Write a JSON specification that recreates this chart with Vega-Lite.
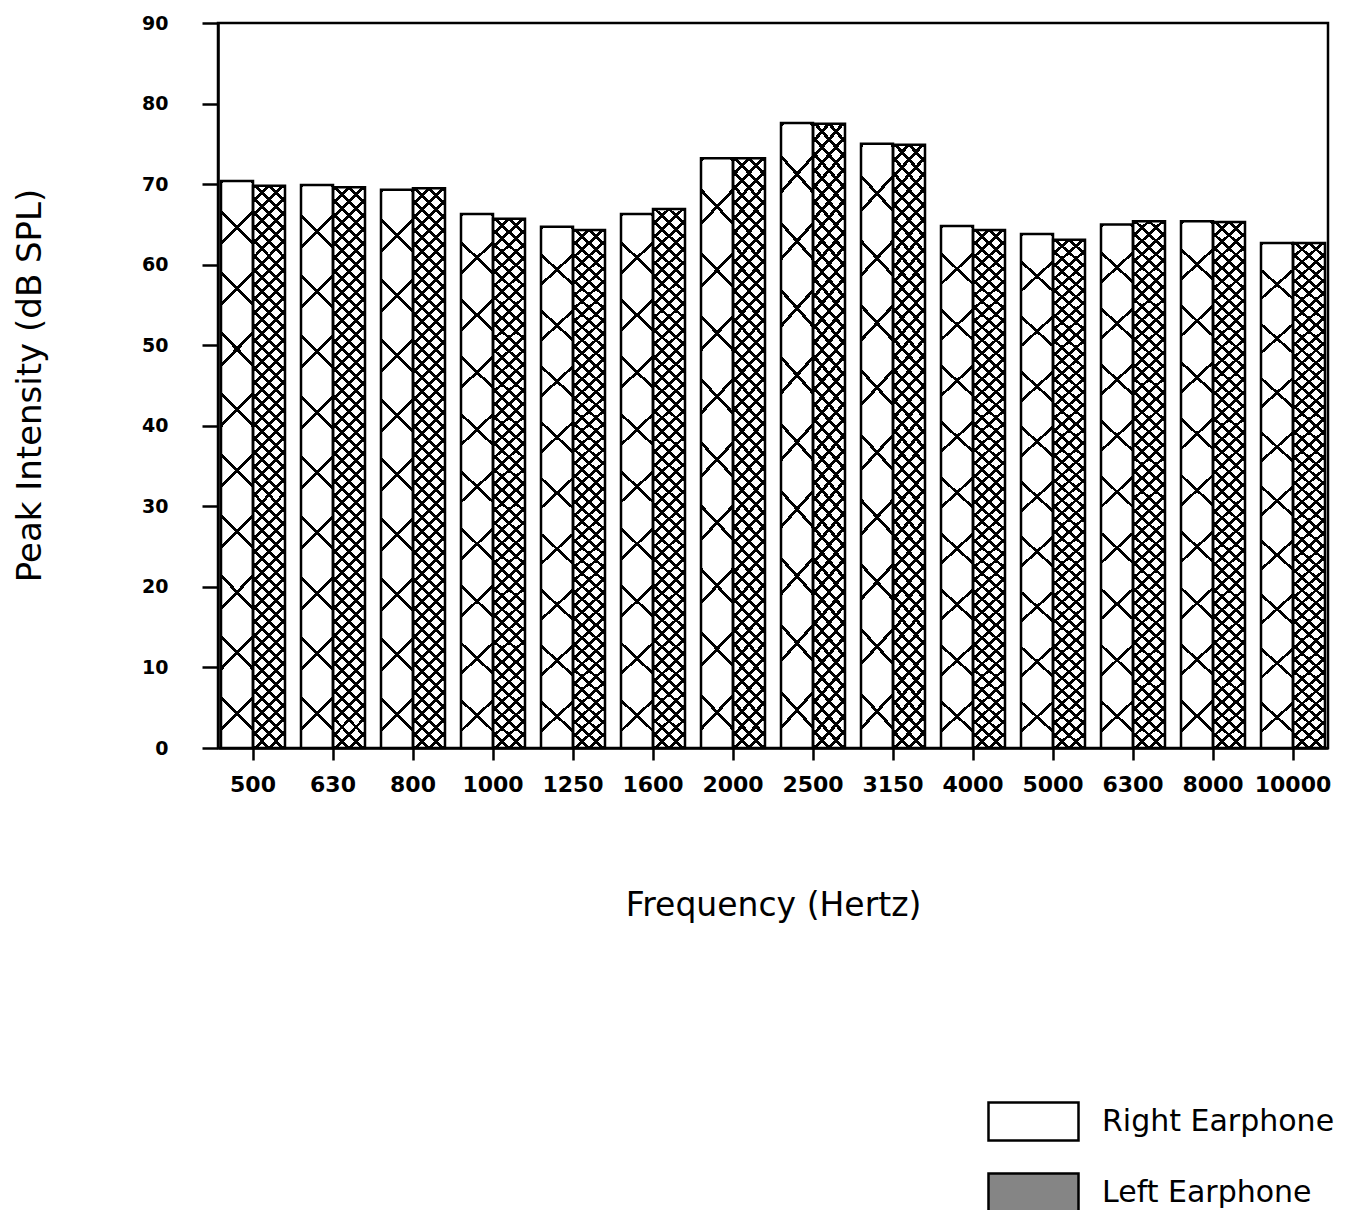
{
"$schema":"https://vega.github.io/schema/vega-lite/v6.json",
"autosize":{"type":"none"},
"padding":{"left":218,"top":23,"right":37,"bottom":462},
"width":1110,"height":725,
"background":"white",
"config":{"view":{"stroke":"black","strokeWidth":2.5},
"axis":{"domainColor":"black","domainWidth":2.5,"tickColor":"black","tickWidth":2.5,"labelColor":"black","titleColor":"black","grid":false,"labelFont":"DejaVu Sans","titleFont":"DejaVu Sans","titleFontWeight":"normal"}},
"data":{"values":[
{"freq":"500","ear":"Right Earphone","db":70.4},{"freq":"500","ear":"Left Earphone","db":69.8},
{"freq":"630","ear":"Right Earphone","db":69.9},{"freq":"630","ear":"Left Earphone","db":69.6},
{"freq":"800","ear":"Right Earphone","db":69.3},{"freq":"800","ear":"Left Earphone","db":69.5},
{"freq":"1000","ear":"Right Earphone","db":66.3},{"freq":"1000","ear":"Left Earphone","db":65.7},
{"freq":"1250","ear":"Right Earphone","db":64.7},{"freq":"1250","ear":"Left Earphone","db":64.3},
{"freq":"1600","ear":"Right Earphone","db":66.3},{"freq":"1600","ear":"Left Earphone","db":66.9},
{"freq":"2000","ear":"Right Earphone","db":73.2},{"freq":"2000","ear":"Left Earphone","db":73.2},
{"freq":"2500","ear":"Right Earphone","db":77.6},{"freq":"2500","ear":"Left Earphone","db":77.5},
{"freq":"3150","ear":"Right Earphone","db":75.0},{"freq":"3150","ear":"Left Earphone","db":74.9},
{"freq":"4000","ear":"Right Earphone","db":64.8},{"freq":"4000","ear":"Left Earphone","db":64.3},
{"freq":"5000","ear":"Right Earphone","db":63.8},{"freq":"5000","ear":"Left Earphone","db":63.1},
{"freq":"6300","ear":"Right Earphone","db":65.0},{"freq":"6300","ear":"Left Earphone","db":65.4},
{"freq":"8000","ear":"Right Earphone","db":65.4},{"freq":"8000","ear":"Left Earphone","db":65.3},
{"freq":"10000","ear":"Right Earphone","db":62.7},{"freq":"10000","ear":"Left Earphone","db":62.7}
]},
"encoding":{
"x":{"field":"freq","type":"nominal","sort":["500","630","800","1000","1250","1600","2000","2500","3150","4000","5000","6300","8000","10000"],"scale":{"paddingInner":0.2,"paddingOuter":0.0375},"title":"Frequency (Hertz)",
"axis":{"labelAngle":0,"tickSize":12,"labelPadding":14,"labelFontSize":22,"labelFontWeight":"bold","titleFontSize":33,"titleX":555,"titleY":157,"titleAlign":"center","titleBaseline":"middle"}},
"xOffset":{"field":"ear","type":"nominal","sort":["Right Earphone","Left Earphone"]},
"y":{"field":"db","type":"quantitative","scale":{"domain":[0,90],"nice":false},"title":"Peak Intensity (dB SPL)",
"axis":{"values":[0,10,20,30,40,50,60,70,80,90],"tickSize":16,"labelPadding":34,"labelFontSize":19,"labelFontWeight":"bold","labelFlush":false,"labelOverlap":false,"titleFontSize":34,"titleX":-188,"titleY":362,"titleAngle":270,"titleAlign":"center","titleBaseline":"middle"}}
},
"layer":[
{"mark":{"type":"bar","opacity":0},
 "encoding":{"fill":{"field":"ear","type":"nominal","scale":{"domain":["Right Earphone","Left Earphone"],"range":["white","#858585"]},
 "legend":{"title":null,"orient":"none","legendX":769,"legendY":1052,"padding":0,"symbolType":"M-1,-0.42H1V0.42H-1Z","symbolSize":8100,"symbolStrokeColor":"black","symbolStrokeWidth":2.5,"symbolOpacity":1,"labelFontSize":30,"labelFont":"DejaVu Sans","labelColor":"black","labelOffset":22,"labelLimit":0,"rowPadding":-28}}}},
{"mark":{"type":"bar","fill":"white","strokeWidth":0}},
{"transform":[{"filter":"datum.ear === 'Right Earphone'"}],
 "mark":{"type":"bar","strokeWidth":0,"fill":{"gradient":"linear","x1":0,"y1":0,"x2":0.0712,"y2":1.246,"stops":[
{"offset":0,"color":"transparent"},{"offset":0,"color":"black"},{"offset":0.0057,"color":"black"},{"offset":0.0057,"color":"transparent"},
{"offset":0.0857,"color":"transparent"},{"offset":0.0857,"color":"black"},{"offset":0.0914,"color":"black"},{"offset":0.0914,"color":"transparent"},
{"offset":0.1714,"color":"transparent"},{"offset":0.1714,"color":"black"},{"offset":0.1771,"color":"black"},{"offset":0.1771,"color":"transparent"},
{"offset":0.2571,"color":"transparent"},{"offset":0.2571,"color":"black"},{"offset":0.2629,"color":"black"},{"offset":0.2629,"color":"transparent"},
{"offset":0.3429,"color":"transparent"},{"offset":0.3429,"color":"black"},{"offset":0.3486,"color":"black"},{"offset":0.3486,"color":"transparent"},
{"offset":0.4286,"color":"transparent"},{"offset":0.4286,"color":"black"},{"offset":0.4343,"color":"black"},{"offset":0.4343,"color":"transparent"},
{"offset":0.5143,"color":"transparent"},{"offset":0.5143,"color":"black"},{"offset":0.52,"color":"black"},{"offset":0.52,"color":"transparent"},
{"offset":0.6,"color":"transparent"},{"offset":0.6,"color":"black"},{"offset":0.6057,"color":"black"},{"offset":0.6057,"color":"transparent"},
{"offset":0.6857,"color":"transparent"},{"offset":0.6857,"color":"black"},{"offset":0.6914,"color":"black"},{"offset":0.6914,"color":"transparent"},
{"offset":0.7714,"color":"transparent"},{"offset":0.7714,"color":"black"},{"offset":0.7771,"color":"black"},{"offset":0.7771,"color":"transparent"},
{"offset":0.8571,"color":"transparent"},{"offset":0.8571,"color":"black"},{"offset":0.8629,"color":"black"},{"offset":0.8629,"color":"transparent"},
{"offset":0.9429,"color":"transparent"},{"offset":0.9429,"color":"black"},{"offset":0.9486,"color":"black"},{"offset":0.9486,"color":"transparent"},{"offset":1,"color":"transparent"}]}}},
{"transform":[{"filter":"datum.ear === 'Right Earphone'"}],
 "mark":{"type":"bar","strokeWidth":0,"fill":{"gradient":"linear","x1":1,"y1":0,"x2":0.9288,"y2":1.246,"stops":[
{"offset":0,"color":"transparent"},{"offset":0,"color":"black"},{"offset":0.0057,"color":"black"},{"offset":0.0057,"color":"transparent"},
{"offset":0.0857,"color":"transparent"},{"offset":0.0857,"color":"black"},{"offset":0.0914,"color":"black"},{"offset":0.0914,"color":"transparent"},
{"offset":0.1714,"color":"transparent"},{"offset":0.1714,"color":"black"},{"offset":0.1771,"color":"black"},{"offset":0.1771,"color":"transparent"},
{"offset":0.2571,"color":"transparent"},{"offset":0.2571,"color":"black"},{"offset":0.2629,"color":"black"},{"offset":0.2629,"color":"transparent"},
{"offset":0.3429,"color":"transparent"},{"offset":0.3429,"color":"black"},{"offset":0.3486,"color":"black"},{"offset":0.3486,"color":"transparent"},
{"offset":0.4286,"color":"transparent"},{"offset":0.4286,"color":"black"},{"offset":0.4343,"color":"black"},{"offset":0.4343,"color":"transparent"},
{"offset":0.5143,"color":"transparent"},{"offset":0.5143,"color":"black"},{"offset":0.52,"color":"black"},{"offset":0.52,"color":"transparent"},
{"offset":0.6,"color":"transparent"},{"offset":0.6,"color":"black"},{"offset":0.6057,"color":"black"},{"offset":0.6057,"color":"transparent"},
{"offset":0.6857,"color":"transparent"},{"offset":0.6857,"color":"black"},{"offset":0.6914,"color":"black"},{"offset":0.6914,"color":"transparent"},
{"offset":0.7714,"color":"transparent"},{"offset":0.7714,"color":"black"},{"offset":0.7771,"color":"black"},{"offset":0.7771,"color":"transparent"},
{"offset":0.8571,"color":"transparent"},{"offset":0.8571,"color":"black"},{"offset":0.8629,"color":"black"},{"offset":0.8629,"color":"transparent"},
{"offset":0.9429,"color":"transparent"},{"offset":0.9429,"color":"black"},{"offset":0.9486,"color":"black"},{"offset":0.9486,"color":"transparent"},{"offset":1,"color":"transparent"}]}}},
{"transform":[{"filter":"datum.ear === 'Left Earphone'"}],
 "mark":{"type":"bar","strokeWidth":0,"fill":{"gradient":"linear","x1":0,"y1":0,"x2":0.0712,"y2":1.246,"stops":[
{"offset":0,"color":"black"},{"offset":0.0057,"color":"black"},{"offset":0.0057,"color":"transparent"},
{"offset":0.02,"color":"transparent"},{"offset":0.02,"color":"black"},{"offset":0.0257,"color":"black"},{"offset":0.0257,"color":"transparent"},
{"offset":0.04,"color":"transparent"},{"offset":0.04,"color":"black"},{"offset":0.0457,"color":"black"},{"offset":0.0457,"color":"transparent"},
{"offset":0.06,"color":"transparent"},{"offset":0.06,"color":"black"},{"offset":0.0657,"color":"black"},{"offset":0.0657,"color":"transparent"},
{"offset":0.08,"color":"transparent"},{"offset":0.08,"color":"black"},{"offset":0.0857,"color":"black"},{"offset":0.0857,"color":"transparent"},
{"offset":0.1,"color":"transparent"},{"offset":0.1,"color":"black"},{"offset":0.1057,"color":"black"},{"offset":0.1057,"color":"transparent"},
{"offset":0.12,"color":"transparent"},{"offset":0.12,"color":"black"},{"offset":0.1257,"color":"black"},{"offset":0.1257,"color":"transparent"},
{"offset":0.14,"color":"transparent"},{"offset":0.14,"color":"black"},{"offset":0.1457,"color":"black"},{"offset":0.1457,"color":"transparent"},
{"offset":0.16,"color":"transparent"},{"offset":0.16,"color":"black"},{"offset":0.1657,"color":"black"},{"offset":0.1657,"color":"transparent"},
{"offset":0.18,"color":"transparent"},{"offset":0.18,"color":"black"},{"offset":0.1857,"color":"black"},{"offset":0.1857,"color":"transparent"},
{"offset":0.2,"color":"transparent"},{"offset":0.2,"color":"black"},{"offset":0.2057,"color":"black"},{"offset":0.2057,"color":"transparent"},
{"offset":0.22,"color":"transparent"},{"offset":0.22,"color":"black"},{"offset":0.2257,"color":"black"},{"offset":0.2257,"color":"transparent"},
{"offset":0.24,"color":"transparent"},{"offset":0.24,"color":"black"},{"offset":0.2457,"color":"black"},{"offset":0.2457,"color":"transparent"},
{"offset":0.26,"color":"transparent"},{"offset":0.26,"color":"black"},{"offset":0.2657,"color":"black"},{"offset":0.2657,"color":"transparent"},
{"offset":0.28,"color":"transparent"},{"offset":0.28,"color":"black"},{"offset":0.2857,"color":"black"},{"offset":0.2857,"color":"transparent"},
{"offset":0.3,"color":"transparent"},{"offset":0.3,"color":"black"},{"offset":0.3057,"color":"black"},{"offset":0.3057,"color":"transparent"},
{"offset":0.32,"color":"transparent"},{"offset":0.32,"color":"black"},{"offset":0.3257,"color":"black"},{"offset":0.3257,"color":"transparent"},
{"offset":0.34,"color":"transparent"},{"offset":0.34,"color":"black"},{"offset":0.3457,"color":"black"},{"offset":0.3457,"color":"transparent"},
{"offset":0.36,"color":"transparent"},{"offset":0.36,"color":"black"},{"offset":0.3657,"color":"black"},{"offset":0.3657,"color":"transparent"},
{"offset":0.38,"color":"transparent"},{"offset":0.38,"color":"black"},{"offset":0.3857,"color":"black"},{"offset":0.3857,"color":"transparent"},
{"offset":0.4,"color":"transparent"},{"offset":0.4,"color":"black"},{"offset":0.4057,"color":"black"},{"offset":0.4057,"color":"transparent"},
{"offset":0.42,"color":"transparent"},{"offset":0.42,"color":"black"},{"offset":0.4257,"color":"black"},{"offset":0.4257,"color":"transparent"},
{"offset":0.44,"color":"transparent"},{"offset":0.44,"color":"black"},{"offset":0.4457,"color":"black"},{"offset":0.4457,"color":"transparent"},
{"offset":0.46,"color":"transparent"},{"offset":0.46,"color":"black"},{"offset":0.4657,"color":"black"},{"offset":0.4657,"color":"transparent"},
{"offset":0.48,"color":"transparent"},{"offset":0.48,"color":"black"},{"offset":0.4857,"color":"black"},{"offset":0.4857,"color":"transparent"},
{"offset":0.5,"color":"transparent"},{"offset":0.5,"color":"black"},{"offset":0.5057,"color":"black"},{"offset":0.5057,"color":"transparent"},
{"offset":0.52,"color":"transparent"},{"offset":0.52,"color":"black"},{"offset":0.5257,"color":"black"},{"offset":0.5257,"color":"transparent"},
{"offset":0.54,"color":"transparent"},{"offset":0.54,"color":"black"},{"offset":0.5457,"color":"black"},{"offset":0.5457,"color":"transparent"},
{"offset":0.56,"color":"transparent"},{"offset":0.56,"color":"black"},{"offset":0.5657,"color":"black"},{"offset":0.5657,"color":"transparent"},
{"offset":0.58,"color":"transparent"},{"offset":0.58,"color":"black"},{"offset":0.5857,"color":"black"},{"offset":0.5857,"color":"transparent"},
{"offset":0.6,"color":"transparent"},{"offset":0.6,"color":"black"},{"offset":0.6057,"color":"black"},{"offset":0.6057,"color":"transparent"},
{"offset":0.62,"color":"transparent"},{"offset":0.62,"color":"black"},{"offset":0.6257,"color":"black"},{"offset":0.6257,"color":"transparent"},
{"offset":0.64,"color":"transparent"},{"offset":0.64,"color":"black"},{"offset":0.6457,"color":"black"},{"offset":0.6457,"color":"transparent"},
{"offset":0.66,"color":"transparent"},{"offset":0.66,"color":"black"},{"offset":0.6657,"color":"black"},{"offset":0.6657,"color":"transparent"},
{"offset":0.68,"color":"transparent"},{"offset":0.68,"color":"black"},{"offset":0.6857,"color":"black"},{"offset":0.6857,"color":"transparent"},
{"offset":0.7,"color":"transparent"},{"offset":0.7,"color":"black"},{"offset":0.7057,"color":"black"},{"offset":0.7057,"color":"transparent"},
{"offset":0.72,"color":"transparent"},{"offset":0.72,"color":"black"},{"offset":0.7257,"color":"black"},{"offset":0.7257,"color":"transparent"},
{"offset":0.74,"color":"transparent"},{"offset":0.74,"color":"black"},{"offset":0.7457,"color":"black"},{"offset":0.7457,"color":"transparent"},
{"offset":0.76,"color":"transparent"},{"offset":0.76,"color":"black"},{"offset":0.7657,"color":"black"},{"offset":0.7657,"color":"transparent"},
{"offset":0.78,"color":"transparent"},{"offset":0.78,"color":"black"},{"offset":0.7857,"color":"black"},{"offset":0.7857,"color":"transparent"},
{"offset":0.8,"color":"transparent"},{"offset":0.8,"color":"black"},{"offset":0.8057,"color":"black"},{"offset":0.8057,"color":"transparent"},
{"offset":0.82,"color":"transparent"},{"offset":0.82,"color":"black"},{"offset":0.8257,"color":"black"},{"offset":0.8257,"color":"transparent"},
{"offset":0.84,"color":"transparent"},{"offset":0.84,"color":"black"},{"offset":0.8457,"color":"black"},{"offset":0.8457,"color":"transparent"},
{"offset":0.86,"color":"transparent"},{"offset":0.86,"color":"black"},{"offset":0.8657,"color":"black"},{"offset":0.8657,"color":"transparent"},
{"offset":0.88,"color":"transparent"},{"offset":0.88,"color":"black"},{"offset":0.8857,"color":"black"},{"offset":0.8857,"color":"transparent"},
{"offset":0.9,"color":"transparent"},{"offset":0.9,"color":"black"},{"offset":0.9057,"color":"black"},{"offset":0.9057,"color":"transparent"},
{"offset":0.92,"color":"transparent"},{"offset":0.92,"color":"black"},{"offset":0.9257,"color":"black"},{"offset":0.9257,"color":"transparent"},
{"offset":0.94,"color":"transparent"},{"offset":0.94,"color":"black"},{"offset":0.9457,"color":"black"},{"offset":0.9457,"color":"transparent"},
{"offset":0.96,"color":"transparent"},{"offset":0.96,"color":"black"},{"offset":0.9657,"color":"black"},{"offset":0.9657,"color":"transparent"},
{"offset":0.98,"color":"transparent"},{"offset":0.98,"color":"black"},{"offset":0.9857,"color":"black"},{"offset":0.9857,"color":"transparent"},{"offset":1,"color":"transparent"}]}}},
{"transform":[{"filter":"datum.ear === 'Left Earphone'"}],
 "mark":{"type":"bar","strokeWidth":0,"fill":{"gradient":"linear","x1":1,"y1":0,"x2":0.9288,"y2":1.246,"stops":[
{"offset":0,"color":"black"},{"offset":0.0057,"color":"black"},{"offset":0.0057,"color":"transparent"},
{"offset":0.02,"color":"transparent"},{"offset":0.02,"color":"black"},{"offset":0.0257,"color":"black"},{"offset":0.0257,"color":"transparent"},
{"offset":0.04,"color":"transparent"},{"offset":0.04,"color":"black"},{"offset":0.0457,"color":"black"},{"offset":0.0457,"color":"transparent"},
{"offset":0.06,"color":"transparent"},{"offset":0.06,"color":"black"},{"offset":0.0657,"color":"black"},{"offset":0.0657,"color":"transparent"},
{"offset":0.08,"color":"transparent"},{"offset":0.08,"color":"black"},{"offset":0.0857,"color":"black"},{"offset":0.0857,"color":"transparent"},
{"offset":0.1,"color":"transparent"},{"offset":0.1,"color":"black"},{"offset":0.1057,"color":"black"},{"offset":0.1057,"color":"transparent"},
{"offset":0.12,"color":"transparent"},{"offset":0.12,"color":"black"},{"offset":0.1257,"color":"black"},{"offset":0.1257,"color":"transparent"},
{"offset":0.14,"color":"transparent"},{"offset":0.14,"color":"black"},{"offset":0.1457,"color":"black"},{"offset":0.1457,"color":"transparent"},
{"offset":0.16,"color":"transparent"},{"offset":0.16,"color":"black"},{"offset":0.1657,"color":"black"},{"offset":0.1657,"color":"transparent"},
{"offset":0.18,"color":"transparent"},{"offset":0.18,"color":"black"},{"offset":0.1857,"color":"black"},{"offset":0.1857,"color":"transparent"},
{"offset":0.2,"color":"transparent"},{"offset":0.2,"color":"black"},{"offset":0.2057,"color":"black"},{"offset":0.2057,"color":"transparent"},
{"offset":0.22,"color":"transparent"},{"offset":0.22,"color":"black"},{"offset":0.2257,"color":"black"},{"offset":0.2257,"color":"transparent"},
{"offset":0.24,"color":"transparent"},{"offset":0.24,"color":"black"},{"offset":0.2457,"color":"black"},{"offset":0.2457,"color":"transparent"},
{"offset":0.26,"color":"transparent"},{"offset":0.26,"color":"black"},{"offset":0.2657,"color":"black"},{"offset":0.2657,"color":"transparent"},
{"offset":0.28,"color":"transparent"},{"offset":0.28,"color":"black"},{"offset":0.2857,"color":"black"},{"offset":0.2857,"color":"transparent"},
{"offset":0.3,"color":"transparent"},{"offset":0.3,"color":"black"},{"offset":0.3057,"color":"black"},{"offset":0.3057,"color":"transparent"},
{"offset":0.32,"color":"transparent"},{"offset":0.32,"color":"black"},{"offset":0.3257,"color":"black"},{"offset":0.3257,"color":"transparent"},
{"offset":0.34,"color":"transparent"},{"offset":0.34,"color":"black"},{"offset":0.3457,"color":"black"},{"offset":0.3457,"color":"transparent"},
{"offset":0.36,"color":"transparent"},{"offset":0.36,"color":"black"},{"offset":0.3657,"color":"black"},{"offset":0.3657,"color":"transparent"},
{"offset":0.38,"color":"transparent"},{"offset":0.38,"color":"black"},{"offset":0.3857,"color":"black"},{"offset":0.3857,"color":"transparent"},
{"offset":0.4,"color":"transparent"},{"offset":0.4,"color":"black"},{"offset":0.4057,"color":"black"},{"offset":0.4057,"color":"transparent"},
{"offset":0.42,"color":"transparent"},{"offset":0.42,"color":"black"},{"offset":0.4257,"color":"black"},{"offset":0.4257,"color":"transparent"},
{"offset":0.44,"color":"transparent"},{"offset":0.44,"color":"black"},{"offset":0.4457,"color":"black"},{"offset":0.4457,"color":"transparent"},
{"offset":0.46,"color":"transparent"},{"offset":0.46,"color":"black"},{"offset":0.4657,"color":"black"},{"offset":0.4657,"color":"transparent"},
{"offset":0.48,"color":"transparent"},{"offset":0.48,"color":"black"},{"offset":0.4857,"color":"black"},{"offset":0.4857,"color":"transparent"},
{"offset":0.5,"color":"transparent"},{"offset":0.5,"color":"black"},{"offset":0.5057,"color":"black"},{"offset":0.5057,"color":"transparent"},
{"offset":0.52,"color":"transparent"},{"offset":0.52,"color":"black"},{"offset":0.5257,"color":"black"},{"offset":0.5257,"color":"transparent"},
{"offset":0.54,"color":"transparent"},{"offset":0.54,"color":"black"},{"offset":0.5457,"color":"black"},{"offset":0.5457,"color":"transparent"},
{"offset":0.56,"color":"transparent"},{"offset":0.56,"color":"black"},{"offset":0.5657,"color":"black"},{"offset":0.5657,"color":"transparent"},
{"offset":0.58,"color":"transparent"},{"offset":0.58,"color":"black"},{"offset":0.5857,"color":"black"},{"offset":0.5857,"color":"transparent"},
{"offset":0.6,"color":"transparent"},{"offset":0.6,"color":"black"},{"offset":0.6057,"color":"black"},{"offset":0.6057,"color":"transparent"},
{"offset":0.62,"color":"transparent"},{"offset":0.62,"color":"black"},{"offset":0.6257,"color":"black"},{"offset":0.6257,"color":"transparent"},
{"offset":0.64,"color":"transparent"},{"offset":0.64,"color":"black"},{"offset":0.6457,"color":"black"},{"offset":0.6457,"color":"transparent"},
{"offset":0.66,"color":"transparent"},{"offset":0.66,"color":"black"},{"offset":0.6657,"color":"black"},{"offset":0.6657,"color":"transparent"},
{"offset":0.68,"color":"transparent"},{"offset":0.68,"color":"black"},{"offset":0.6857,"color":"black"},{"offset":0.6857,"color":"transparent"},
{"offset":0.7,"color":"transparent"},{"offset":0.7,"color":"black"},{"offset":0.7057,"color":"black"},{"offset":0.7057,"color":"transparent"},
{"offset":0.72,"color":"transparent"},{"offset":0.72,"color":"black"},{"offset":0.7257,"color":"black"},{"offset":0.7257,"color":"transparent"},
{"offset":0.74,"color":"transparent"},{"offset":0.74,"color":"black"},{"offset":0.7457,"color":"black"},{"offset":0.7457,"color":"transparent"},
{"offset":0.76,"color":"transparent"},{"offset":0.76,"color":"black"},{"offset":0.7657,"color":"black"},{"offset":0.7657,"color":"transparent"},
{"offset":0.78,"color":"transparent"},{"offset":0.78,"color":"black"},{"offset":0.7857,"color":"black"},{"offset":0.7857,"color":"transparent"},
{"offset":0.8,"color":"transparent"},{"offset":0.8,"color":"black"},{"offset":0.8057,"color":"black"},{"offset":0.8057,"color":"transparent"},
{"offset":0.82,"color":"transparent"},{"offset":0.82,"color":"black"},{"offset":0.8257,"color":"black"},{"offset":0.8257,"color":"transparent"},
{"offset":0.84,"color":"transparent"},{"offset":0.84,"color":"black"},{"offset":0.8457,"color":"black"},{"offset":0.8457,"color":"transparent"},
{"offset":0.86,"color":"transparent"},{"offset":0.86,"color":"black"},{"offset":0.8657,"color":"black"},{"offset":0.8657,"color":"transparent"},
{"offset":0.88,"color":"transparent"},{"offset":0.88,"color":"black"},{"offset":0.8857,"color":"black"},{"offset":0.8857,"color":"transparent"},
{"offset":0.9,"color":"transparent"},{"offset":0.9,"color":"black"},{"offset":0.9057,"color":"black"},{"offset":0.9057,"color":"transparent"},
{"offset":0.92,"color":"transparent"},{"offset":0.92,"color":"black"},{"offset":0.9257,"color":"black"},{"offset":0.9257,"color":"transparent"},
{"offset":0.94,"color":"transparent"},{"offset":0.94,"color":"black"},{"offset":0.9457,"color":"black"},{"offset":0.9457,"color":"transparent"},
{"offset":0.96,"color":"transparent"},{"offset":0.96,"color":"black"},{"offset":0.9657,"color":"black"},{"offset":0.9657,"color":"transparent"},
{"offset":0.98,"color":"transparent"},{"offset":0.98,"color":"black"},{"offset":0.9857,"color":"black"},{"offset":0.9857,"color":"transparent"},{"offset":1,"color":"transparent"}]}}},
{"mark":{"type":"bar","fillOpacity":0,"stroke":"black","strokeWidth":2.5}}
]
}
